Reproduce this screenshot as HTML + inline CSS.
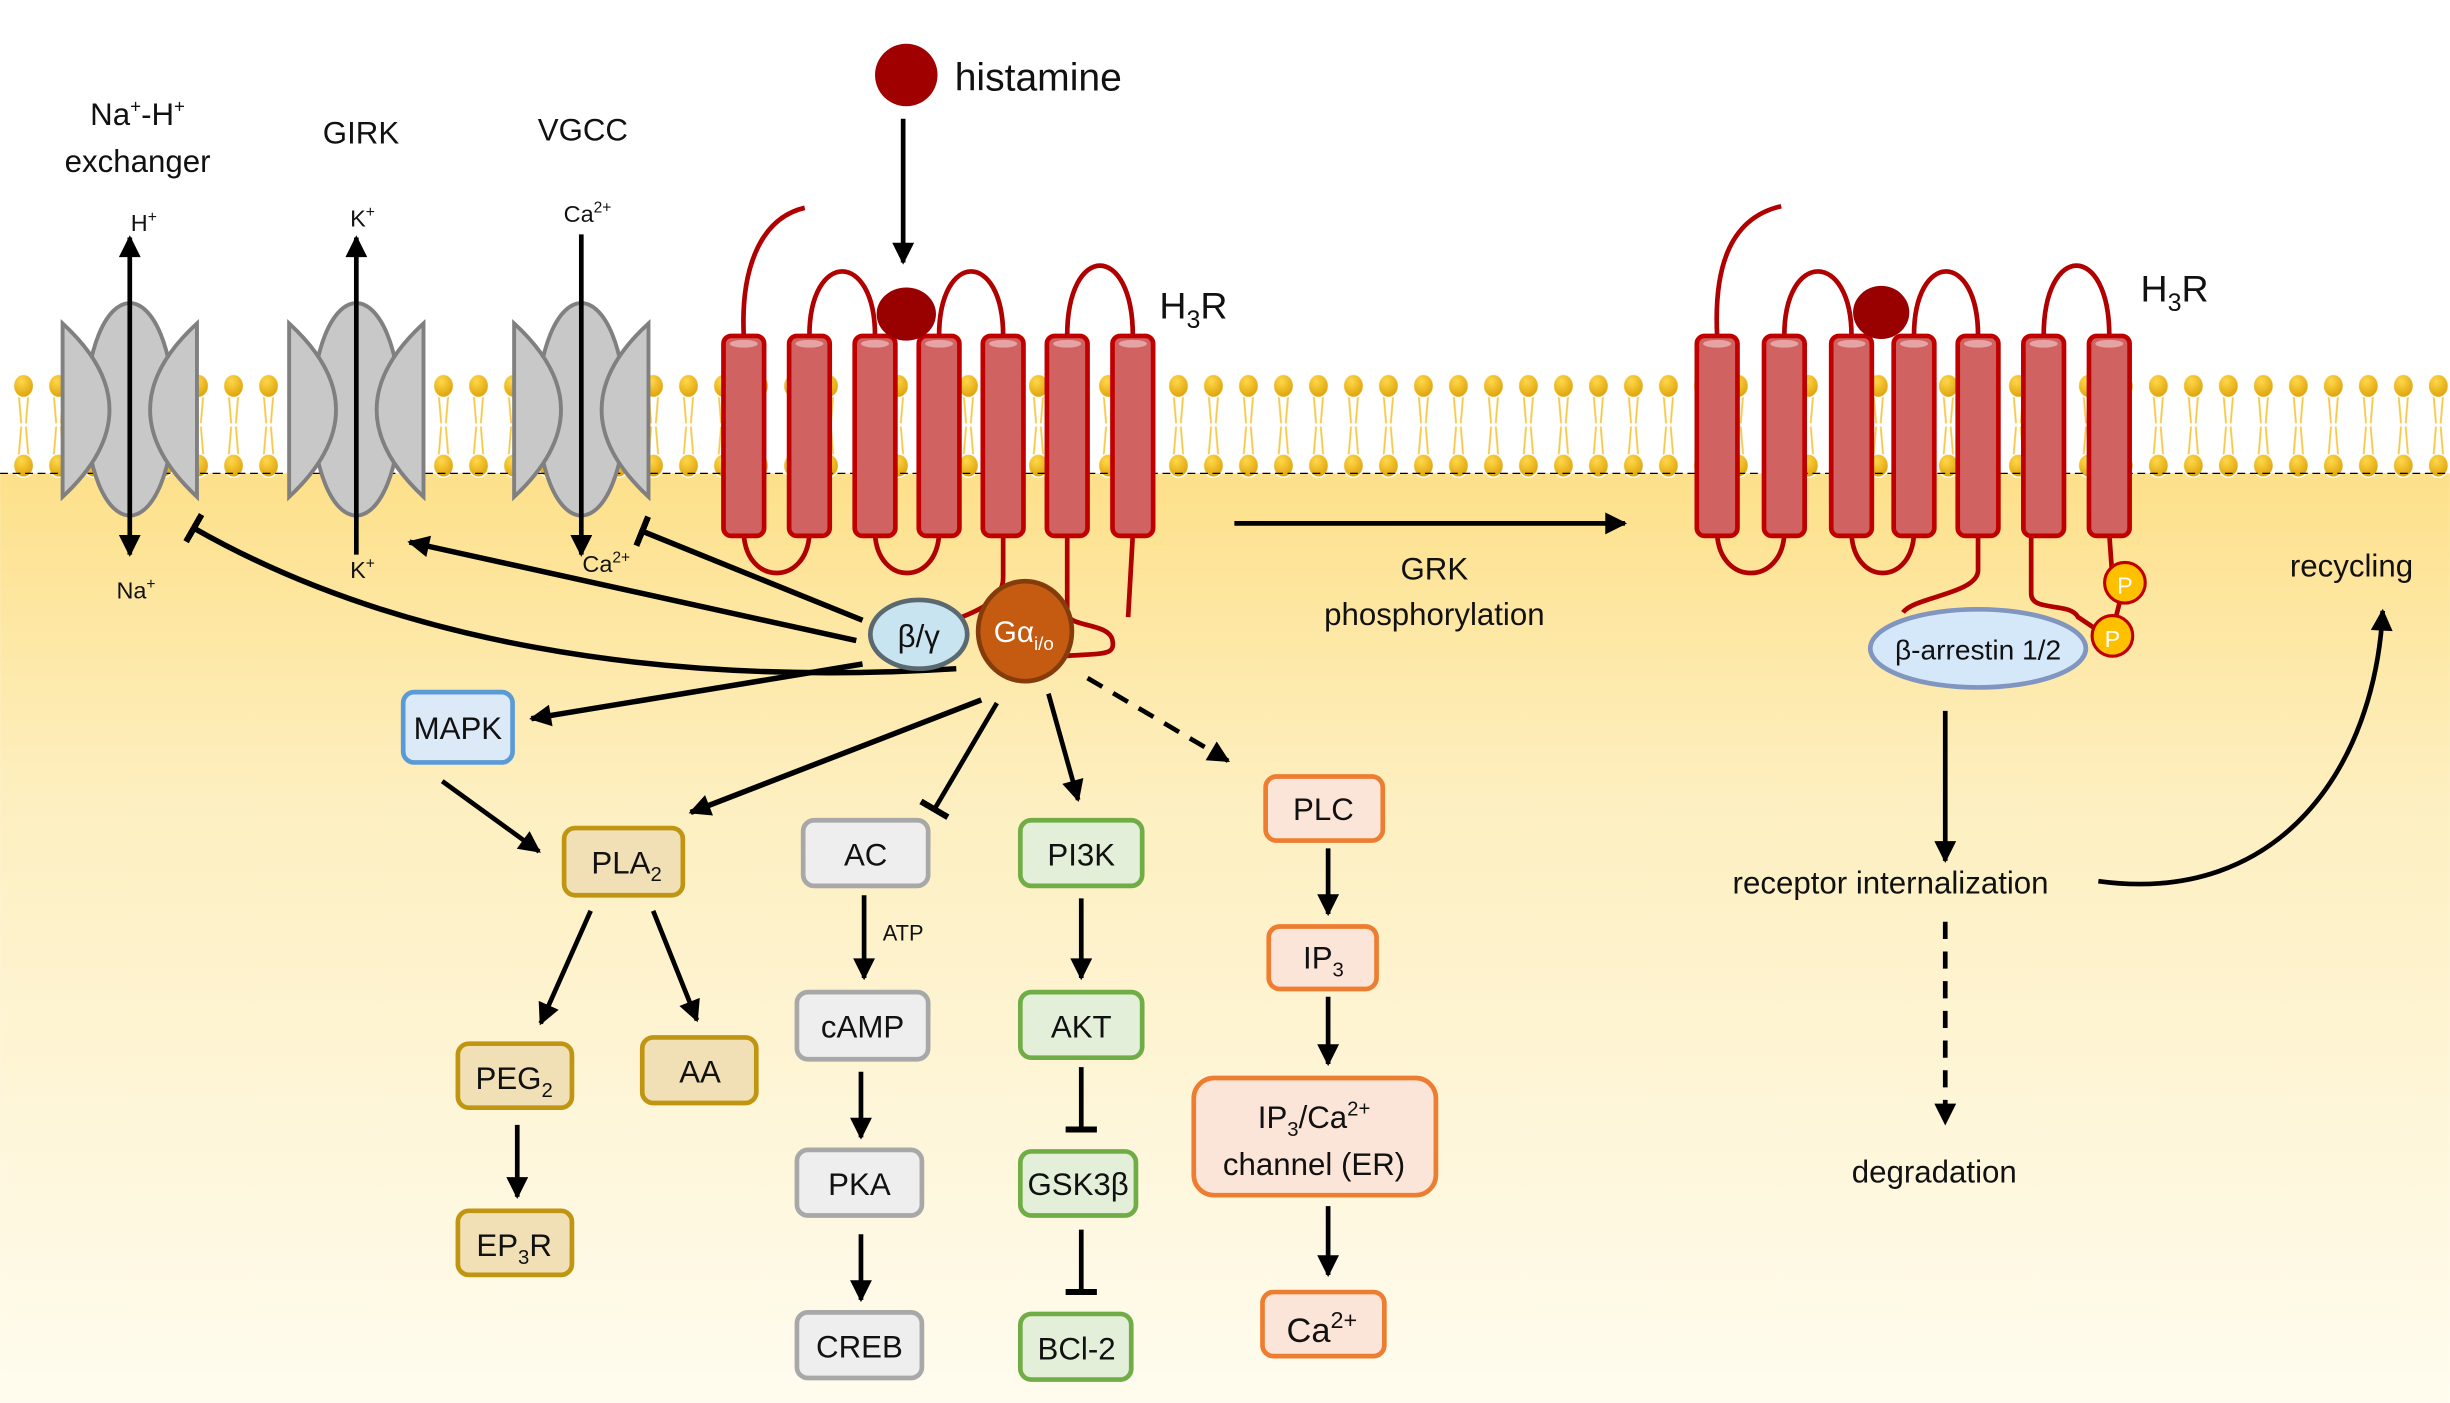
<!DOCTYPE html>
<html><head><meta charset="utf-8"><style>
html,body{margin:0;padding:0;background:#fff}
svg{display:block}
text{font-family:"Liberation Sans",sans-serif;fill:#111}
</style></head><body>
<svg width="2450" height="1403" viewBox="0 0 1568 898" xmlns="http://www.w3.org/2000/svg">
<defs>
<linearGradient id="bg" x1="0" y1="0" x2="0" y2="1">
<stop offset="0" stop-color="#fde08a"/><stop offset="0.35" stop-color="#fdefc0"/><stop offset="1" stop-color="#fffcef"/>
</linearGradient>
<radialGradient id="head" cx="0.4" cy="0.3" r="0.8">
<stop offset="0" stop-color="#ffd84a"/><stop offset="1" stop-color="#d99a00"/>
</radialGradient>
<pattern id="lip" x="4" y="238" width="22.4" height="68" patternUnits="userSpaceOnUse">
<path d="M8,15 L9.5,33 M14,15 L12.5,33 M9.5,35 L8,53 M12.5,35 L14,53" stroke="#f7c94a" stroke-width="1.2" fill="none"/>
<ellipse cx="11" cy="9" rx="6.5" ry="7.5" fill="url(#head)" stroke="#fff" stroke-width="1"/>
<ellipse cx="11" cy="60" rx="6.5" ry="7.5" fill="url(#head)" stroke="#fff" stroke-width="1"/>
</pattern>
<marker id="ah" viewBox="0 0 10 10" refX="9" refY="5" markerWidth="16" markerHeight="14" markerUnits="userSpaceOnUse" orient="auto-start-reverse">
<path d="M0,0 L10,5 L0,10 Z" fill="#000"/>
</marker>
<marker id="tb" viewBox="0 0 4 20" refX="2" refY="10" markerWidth="4" markerHeight="22" markerUnits="userSpaceOnUse" orient="auto">
<rect x="0" y="0" width="4" height="20" fill="#000"/>
</marker>
<symbol id="cyl" overflow="visible">
<rect x="-13" y="0" width="26" height="128" rx="5" fill="#d06262" stroke="#c00000" stroke-width="3"/>
<ellipse cx="0" cy="5" rx="9" ry="2.5" fill="#e6a3a3"/>
</symbol>
<g id="chan">
<ellipse cx="0" cy="262" rx="28" ry="68" fill="#c8c8c8" stroke="#808080" stroke-width="2.5"/>
<path d="M-43,207 Q17,262 -43,318 Z" fill="#c8c8c8" stroke="#808080" stroke-width="2.5"/>
<path d="M43,207 Q-17,262 43,318 Z" fill="#c8c8c8" stroke="#808080" stroke-width="2.5"/>
</g>
</defs>

<rect x="0" y="303" width="1568" height="595" fill="url(#bg)"/>
<rect x="0" y="238" width="1568" height="68" fill="url(#lip)"/>
<line x1="0" y1="303" x2="1568" y2="303" stroke="#000" stroke-width="0.8" stroke-dasharray="5,3"/>

<use href="#chan" x="83"/>
<use href="#chan" x="228"/>
<use href="#chan" x="372"/>
<text x="88" y="80" font-size="20" text-anchor="middle">Na<tspan font-size="12" dy="-8">+</tspan><tspan dy="8">-H</tspan><tspan font-size="12" dy="-8">+</tspan></text>
<text x="88" y="110" font-size="20" text-anchor="middle">exchanger</text>
<text x="231" y="92" font-size="20" text-anchor="middle">GIRK</text>
<text x="373" y="90" font-size="20" text-anchor="middle">VGCC</text>
<line x1="83" y1="152" x2="83" y2="355" stroke="#000" stroke-width="3" marker-start="url(#ah)" marker-end="url(#ah)"/>
<text x="92" y="148" font-size="15" text-anchor="middle">H<tspan font-size="10" dy="-6">+</tspan></text>
<text x="87" y="383" font-size="15" text-anchor="middle">Na<tspan font-size="10" dy="-6">+</tspan></text>
<line x1="228" y1="355" x2="228" y2="152" stroke="#000" stroke-width="3" marker-end="url(#ah)"/>
<text x="232" y="145" font-size="15" text-anchor="middle">K<tspan font-size="10" dy="-6">+</tspan></text>
<text x="232" y="370" font-size="15" text-anchor="middle">K<tspan font-size="10" dy="-6">+</tspan></text>
<line x1="372" y1="150" x2="372" y2="355" stroke="#000" stroke-width="3" marker-end="url(#ah)"/>
<text x="376" y="142" font-size="15" text-anchor="middle">Ca<tspan font-size="10" dy="-6">2+</tspan></text>
<text x="388" y="366" font-size="15" text-anchor="middle">Ca<tspan font-size="10" dy="-6">2+</tspan></text>

<circle cx="580" cy="48" r="20" fill="#a00000"/>
<text x="611" y="58" font-size="25">histamine</text>
<line x1="578" y1="76" x2="578" y2="168" stroke="#000" stroke-width="3" marker-end="url(#ah)"/>

<g fill="none" stroke="#b00000" stroke-width="3">
<path d="M476,215 C474,175 485,140 515,133"/>
<path d="M518,215 C518,160 560,160 560,215"/>
<path d="M601,215 C601,160 642,160 642,215"/>
<path d="M683,215 C683,155 725,155 725,215"/>
<path d="M476,342 C478,375 516,375 518,342"/>
<path d="M560,342 C562,375 599,375 601,342"/>
<path d="M642,342 L642,370 C642,390 610,395 600,402"/>
<path d="M683,342 L683,392 C683,402 710,398 712,410 C714,420 705,418 680,420"/>
<path d="M725,342 L722,395"/>
</g>
<use href="#cyl" x="476" y="215"/><use href="#cyl" x="518" y="215"/><use href="#cyl" x="560" y="215"/>
<use href="#cyl" x="601" y="215"/><use href="#cyl" x="642" y="215"/><use href="#cyl" x="683" y="215"/><use href="#cyl" x="725" y="215"/>
<ellipse cx="580" cy="201" rx="19" ry="17" fill="#990000"/>
<text x="742" y="204" font-size="24">H<tspan font-size="16" dy="6">3</tspan><tspan dy="-6">R</tspan></text>

<g fill="none" stroke="#000" stroke-width="3.5">
<path d="M612,428 C420,440 250,410 124,338" marker-end="url(#tb)"/>
<line x1="548" y1="410" x2="262" y2="347" marker-end="url(#ah)"/>
<line x1="552" y1="397" x2="411" y2="340" marker-end="url(#tb)"/>
<line x1="552" y1="425" x2="340" y2="460" marker-end="url(#ah)"/>
<line x1="628" y1="448" x2="442" y2="520" marker-end="url(#ah)"/>
<line x1="638" y1="450" x2="598" y2="518" marker-end="url(#tb)" stroke-width="3"/>
<line x1="671" y1="444" x2="690" y2="512" marker-end="url(#ah)" stroke-width="3"/>
<line x1="696" y1="434" x2="786" y2="487" marker-end="url(#ah)" stroke-dasharray="11,8" stroke-width="3"/>
</g>
<ellipse cx="588" cy="406" rx="31" ry="22" fill="#c8e4f0" stroke="#5a6870" stroke-width="3"/>
<text x="588" y="414" font-size="20" text-anchor="middle">β/γ</text>
<ellipse cx="656" cy="404" rx="30" ry="32" fill="#c55a11" stroke="#843c0c" stroke-width="3"/>
<text x="636" y="411" font-size="19" style="fill:#fff">Gα<tspan font-size="12" dy="5" style="fill:#fff">i/o</tspan></text>

<g stroke-width="3">
<rect x="258" y="443" width="70" height="45" rx="7" fill="#dceaf8" stroke="#5b9bd5"/>
<rect x="361" y="530" width="76" height="43" rx="7" fill="#f1e0b5" stroke="#c09512"/>
<rect x="293" y="668" width="73" height="41" rx="7" fill="#f1e0b5" stroke="#c09512"/>
<rect x="411" y="664" width="73" height="42" rx="7" fill="#f1e0b5" stroke="#c09512"/>
<rect x="293" y="775" width="73" height="41" rx="7" fill="#f1e0b5" stroke="#c09512"/>
<rect x="514" y="525" width="80" height="42" rx="7" fill="#eeeeee" stroke="#a8a8a8"/>
<rect x="510" y="635" width="84" height="43" rx="7" fill="#eeeeee" stroke="#a8a8a8"/>
<rect x="510" y="736" width="80" height="42" rx="7" fill="#eeeeee" stroke="#a8a8a8"/>
<rect x="510" y="840" width="80" height="42" rx="7" fill="#eeeeee" stroke="#a8a8a8"/>
<rect x="653" y="525" width="78" height="42" rx="7" fill="#e3efd8" stroke="#70ad47"/>
<rect x="653" y="635" width="78" height="42" rx="7" fill="#e3efd8" stroke="#70ad47"/>
<rect x="653" y="737" width="74" height="41" rx="7" fill="#e3efd8" stroke="#70ad47"/>
<rect x="653" y="841" width="71" height="42" rx="7" fill="#e3efd8" stroke="#70ad47"/>
<rect x="810" y="497" width="75" height="41" rx="7" fill="#fbe4d8" stroke="#ed7d31"/>
<rect x="812" y="593" width="69" height="40" rx="7" fill="#fbe4d8" stroke="#ed7d31"/>
<rect x="764" y="690" width="155" height="75" rx="13" fill="#fbe4d8" stroke="#ed7d31"/>
<rect x="808" y="827" width="78" height="41" rx="7" fill="#fbe4d8" stroke="#ed7d31"/>
</g>
<g font-size="20" text-anchor="middle">
<text x="293" y="473">MAPK</text>
<text x="401" y="559">PLA<tspan font-size="13" dy="5">2</tspan></text>
<text x="329" y="697">PEG<tspan font-size="13" dy="5">2</tspan></text>
<text x="448" y="693">AA</text>
<text x="329" y="804">EP<tspan font-size="13" dy="5">3</tspan><tspan dy="-5">R</tspan></text>
<text x="554" y="554">AC</text>
<text x="552" y="664">cAMP</text>
<text x="550" y="765">PKA</text>
<text x="550" y="869">CREB</text>
<text x="692" y="554">PI3K</text>
<text x="692" y="664">AKT</text>
<text x="690" y="765">GSK3β</text>
<text x="689" y="870">BCl-2</text>
<text x="847" y="525">PLC</text>
<text x="847" y="620">IP<tspan font-size="13" dy="5">3</tspan></text>
<text x="841" y="722">IP<tspan font-size="13" dy="5">3</tspan><tspan dy="-5">/Ca</tspan><tspan font-size="13" dy="-8">2+</tspan></text>
<text x="841" y="752">channel (ER)</text>
<text x="846" y="859" font-size="22">Ca<tspan font-size="15" dy="-9">2+</tspan></text>
</g>
<text x="578" y="602" font-size="14" text-anchor="middle">ATP</text>

<g fill="none" stroke="#000" stroke-width="3">
<line x1="283" y1="500" x2="345" y2="545" marker-end="url(#ah)"/>
<line x1="378" y1="583" x2="346" y2="655" marker-end="url(#ah)"/>
<line x1="418" y1="583" x2="446" y2="653" marker-end="url(#ah)"/>
<line x1="331" y1="720" x2="331" y2="766" marker-end="url(#ah)"/>
<line x1="553" y1="573" x2="553" y2="626" marker-end="url(#ah)"/>
<line x1="551" y1="686" x2="551" y2="728" marker-end="url(#ah)"/>
<line x1="551" y1="790" x2="551" y2="832" marker-end="url(#ah)"/>
<line x1="692" y1="575" x2="692" y2="626" marker-end="url(#ah)"/>
<line x1="692" y1="683" x2="692" y2="723" marker-end="url(#tb)"/>
<line x1="692" y1="787" x2="692" y2="827" marker-end="url(#tb)"/>
<line x1="850" y1="543" x2="850" y2="585" marker-end="url(#ah)"/>
<line x1="850" y1="638" x2="850" y2="681" marker-end="url(#ah)"/>
<line x1="850" y1="772" x2="850" y2="816" marker-end="url(#ah)"/>
<line x1="790" y1="335" x2="1040" y2="335" marker-end="url(#ah)"/>
<line x1="1245" y1="455" x2="1245" y2="551" marker-end="url(#ah)"/>
<line x1="1245" y1="590" x2="1245" y2="719" marker-end="url(#ah)" stroke-dasharray="11,8"/>
<path d="M1343,564 C1460,580 1520,490 1525,391" marker-end="url(#ah)"/>
</g>
<text x="918" y="371" font-size="20" text-anchor="middle">GRK</text>
<text x="918" y="400" font-size="20" text-anchor="middle">phosphorylation</text>
<text x="1210" y="572" font-size="20" text-anchor="middle">receptor internalization</text>
<text x="1238" y="757" font-size="20" text-anchor="middle">degradation</text>
<text x="1505" y="369" font-size="20" text-anchor="middle">recycling</text>

<g fill="none" stroke="#b00000" stroke-width="3">
<path d="M1099,215 C1097,175 1105,140 1140,132"/>
<path d="M1142,215 C1142,160 1185,160 1185,215"/>
<path d="M1225,215 C1225,160 1266,160 1266,215"/>
<path d="M1308,215 C1308,155 1350,155 1350,215"/>
<path d="M1099,342 C1101,375 1140,375 1142,342"/>
<path d="M1185,342 C1187,375 1223,375 1225,342"/>
<path d="M1266,342 L1266,365 C1266,380 1225,382 1218,392"/>
<path d="M1300,342 L1300,380 C1300,392 1325,385 1330,395 L1345,405"/>
<path d="M1350,342 L1352,370"/>
<path d="M1357,384 L1354,396"/>
</g>
<use href="#cyl" x="1099" y="215"/><use href="#cyl" x="1142" y="215"/><use href="#cyl" x="1185" y="215"/>
<use href="#cyl" x="1225" y="215"/><use href="#cyl" x="1266" y="215"/><use href="#cyl" x="1308" y="215"/><use href="#cyl" x="1350" y="215"/>
<ellipse cx="1204" cy="200" rx="18" ry="17" fill="#990000"/>
<text x="1370" y="193" font-size="24">H<tspan font-size="16" dy="6">3</tspan><tspan dy="-6">R</tspan></text>
<ellipse cx="1266" cy="415" rx="69" ry="25" fill="#d5e8fa" stroke="#8096c0" stroke-width="3"/>
<text x="1266" y="422" font-size="18" text-anchor="middle">β-arrestin 1/2</text>
<circle cx="1360" cy="373" r="13" fill="#ffc000" stroke="#c00000" stroke-width="2"/>
<text x="1360" y="380" font-size="15" text-anchor="middle" style="fill:#fff">P</text>
<circle cx="1352" cy="407" r="13" fill="#ffc000" stroke="#c00000" stroke-width="2"/>
<text x="1352" y="414" font-size="15" text-anchor="middle" style="fill:#fff">P</text>
</svg>
</body></html>
